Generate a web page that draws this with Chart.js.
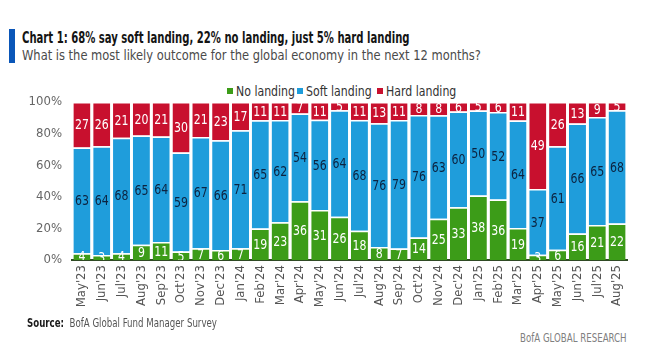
<!DOCTYPE html>
<html>
<head>
<meta charset="utf-8">
<script src="https://cdn.jsdelivr.net/npm/chart.js@4/dist/chart.umd.min.js"></script>
<style>
  html, body { margin:0; padding:0; background:#fff; width:660px; height:355px; overflow:hidden; }
  body { position:relative; font-family:"Liberation Sans Narrow","DejaVu Sans Condensed","Noto Sans",sans-serif; }
  .sx { position:absolute; white-space:nowrap; transform-origin:0 50%; }
  #bar { position:absolute; left:9px; top:29px; width:6px; height:34px; background:#0a56b8; }
  #title { left:22px; top:28px; font-size:16px; font-weight:bold; color:#141414; transform:scaleX(0.70); }
  #sub { left:22px; top:47px; font-size:14.5px; color:#4a4a4a; transform:scaleX(0.88); }
  #src { left:27px; top:316px; font-size:12px; color:#555; transform:scaleX(0.8); }
  #src b { color:#1a1a1a; }
  #brand { left:520px; top:331px; font-size:12px; color:#808080; transform:scaleX(0.8); }
  .lg { position:absolute; top:83px; height:16px; }
  .lg i { position:absolute; left:0; top:5px; width:6px; height:6px; }
  .lg span { position:absolute; display:block; left:9px; top:0px; font-size:14px; color:#333; white-space:nowrap; transform-origin:0 50%; transform:scaleX(0.87); }
  #wrap { position:absolute; left:20px; top:80px; width:640px; height:240px; }
</style>
</head>
<body>
<div id="bar"></div>
<div id="title" class="sx">Chart 1: 68% say soft landing, 22% no landing, just 5% hard landing</div>
<div id="sub" class="sx">What is the most likely outcome for the global economy in the next 12 months?</div>
<div id="legend"></div>
<div id="wrap"><canvas id="c" width="640" height="240"></canvas></div>
<div id="src" class="sx"><b>Source:</b>&nbsp; BofA Global Fund Manager Survey</div>
<div id="brand" class="sx">BofA GLOBAL RESEARCH</div>
<script>
const months = ["May'23","Jun'23","Jul'23","Aug'23","Sep'23","Oct'23","Nov'23","Dec'23","Jan'24","Feb'24","Mar'24","Apr'24","May'24","Jun'24","Jul'24","Aug'24","Sep'24","Oct'24","Nov'24","Dec'24","Jan'25","Feb'25","Mar'25","Apr'25","May'25","Jun'25","Jul'25","Aug'25"];
const seriesNames = ["No landing","Soft landing","Hard landing"];
const noLanding   = [4,3,4,9,11,5,7,6,7,19,23,36,31,26,18,8,7,14,25,33,38,36,19,3,6,16,21,22];
const softLanding = [63,64,68,65,64,59,67,66,71,65,62,54,56,64,68,76,79,76,63,60,50,52,64,37,61,66,65,68];
const hardLanding = [27,26,21,20,21,30,21,23,17,11,11,7,11,5,11,13,11,8,8,6,5,6,11,49,26,13,9,5];
const yTicks = ["0%","20%","40%","60%","80%","100%"];

const totals = months.map((m,i)=>noLanding[i]+softLanding[i]+hardLanding[i]);
const share = arr => arr.map((v,i)=> v / totals[i] * 100);

const FONT = '"Liberation Sans Narrow","DejaVu Sans Condensed","Noto Sans",sans-serif';
const COLORS = ['#3c9c18', '#1f9ddb', '#c8102e'];
const LABEL_COLORS = ['#ffffff', '#0c2340', '#ffffff'];
const raws = [noLanding, softLanding, hardLanding];

// HTML legend
const legendX = [227, 297, 377];
const lg = document.getElementById('legend');
seriesNames.forEach((n, i) => {
  const d = document.createElement('div');
  d.className = 'lg';
  d.style.left = legendX[i] + 'px';
  d.innerHTML = '<i style="background:' + COLORS[i] + '"></i><span>' + n + '</span>';
  lg.appendChild(d);
});

const labelPlugin = {
  id: 'segLabels',
  afterDatasetsDraw(chart) {
    const ctx = chart.ctx, ca = chart.chartArea;
    ctx.save();
    ctx.beginPath();
    ctx.rect(ca.left, ca.top, ca.right - ca.left, ca.bottom - ca.top);
    ctx.clip();
    ctx.font = '14.5px ' + FONT;
    ctx.textAlign = 'center';
    ctx.textBaseline = 'middle';
    chart.data.datasets.forEach((ds, di) => {
      const meta = chart.getDatasetMeta(di);
      ctx.fillStyle = LABEL_COLORS[di];
      meta.data.forEach((el, i) => {
        const p = el.getProps(['x','y','base'], true);
        ctx.save();
        ctx.translate(p.x, (p.y + p.base) / 2 + 1);
        ctx.scale(0.84, 1);
        ctx.fillText(String(raws[di][i]), 0, 0);
        ctx.restore();
      });
    });
    ctx.restore();
  }
};

new Chart(document.getElementById('c'), {
  type: 'bar',
  data: {
    labels: months,
    datasets: raws.map((r, i) => ({
      label: seriesNames[i],
      data: share(r),
      backgroundColor: COLORS[i],
      borderColor: '#ffffff',
      borderWidth: { top: 1.5, left: 0, right: 0, bottom: 0 },
      borderSkipped: false,
      barPercentage: 0.86,
      categoryPercentage: 1.0
    }))
  },
  options: {
    responsive: false,
    devicePixelRatio: 1,
    animation: false,
    layout: { padding: { left: 0, right: 33, top: 22, bottom: 0 } },
    plugins: {
      legend: { display: false },
      tooltip: { enabled: false }
    },
    scales: {
      x: {
        stacked: true,
        grid: { display: false, drawTicks: false },
        border: { display: true, color: '#2f4a24', width: 2 },
        ticks: { minRotation: 90, maxRotation: 90, autoSkip: false, padding: 5,
                 color: '#555', font: { family: FONT, size: 13 } },
        afterFit(s) { s.height = 60; }
      },
      y: {
        stacked: true,
        min: 0, max: 100,
        grid: { display: false, drawTicks: false },
        border: { display: false },
        ticks: { stepSize: 20, padding: 10, color: '#666', font: { family: FONT, size: 13 },
                 callback: (v) => yTicks[Math.round(v / 20)] },
        afterFit(s) { s.width = 52; }
      }
    }
  },
  plugins: [labelPlugin]
});
</script>
</body>
</html>
